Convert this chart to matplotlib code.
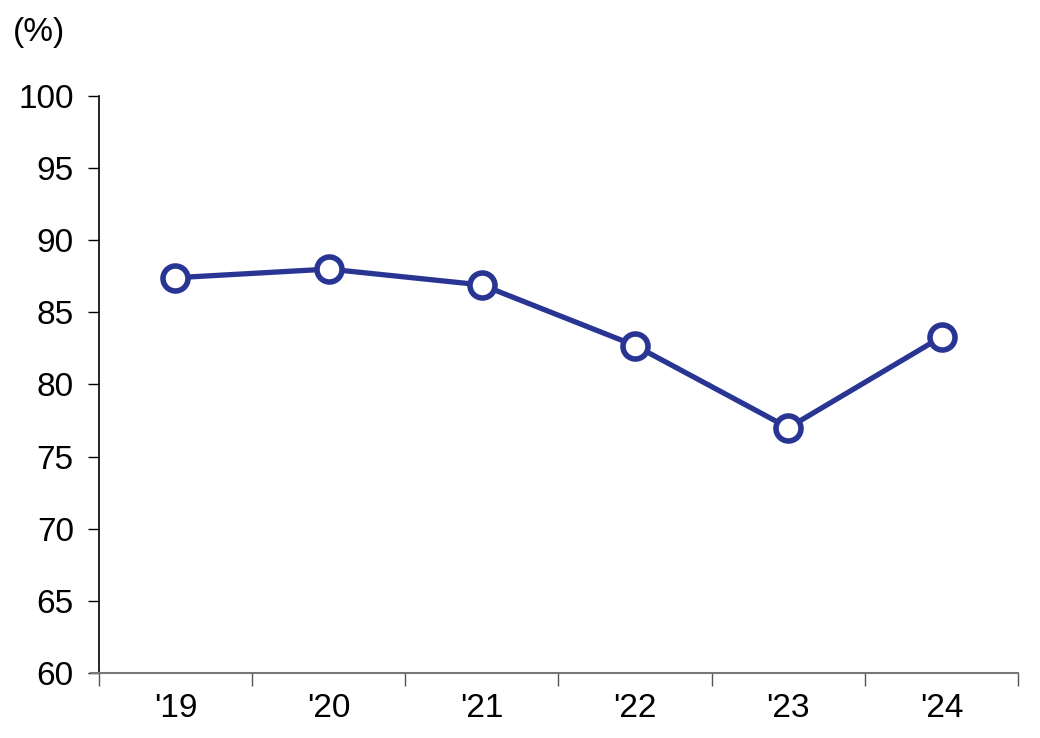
import matplotlib
matplotlib.use("Agg")
from matplotlib import pyplot as plt

# 数据
years = ["'19", "'20", "'21", "'22", "'23", "'24"]
values = [87.4, 88.0, 86.9, 82.7, 77.0, 83.3]
y_ticks = [60, 65, 70, 75, 80, 85, 90, 95, 100]

plt.rcParams['font.family'] = ['Liberation Sans', 'DejaVu Sans']

fig = plt.figure(figsize=(10.4, 7.38), dpi=100)
ax = fig.add_axes([0.095, 0.088, 0.884, 0.782])

x = list(range(len(years)))
ax.plot(x, values, color='#283593', lw=3.8, marker='o', ms=18,
        mfc='white', mec='#283593', mew=4, zorder=3)

ax.set_xlim(-0.5, len(years) - 0.5)
ax.set_ylim(60, 100)
ax.set_yticks(y_ticks)
ax.set_yticklabels([str(v) for v in y_ticks], fontsize=24)

# x 轴刻度放在类别之间
ax.set_xticks([i - 0.5 for i in range(len(years) + 1)])
ax.set_xticklabels([])
ax.set_xticks(x, minor=True)
ax.set_xticklabels(years, minor=True, fontsize=24)
ax.tick_params(axis='x', which='minor', length=0, pad=14)
ax.tick_params(axis='x', which='major', length=9, width=1, color='#555555')
ax.tick_params(axis='y', length=8, width=1, pad=10)

for s in ['top', 'right']:
    ax.spines[s].set_visible(False)
ax.spines['bottom'].set_color('#777777')
ax.spines['bottom'].set_linewidth(1.5)
ax.spines['left'].set_linewidth(1.2)
ax.spines['bottom'].set_bounds(-0.55, len(years) - 0.5)

fig.text(0.012, 0.945, '(%)', fontsize=24)

plt.savefig('out.png', dpi=100)
